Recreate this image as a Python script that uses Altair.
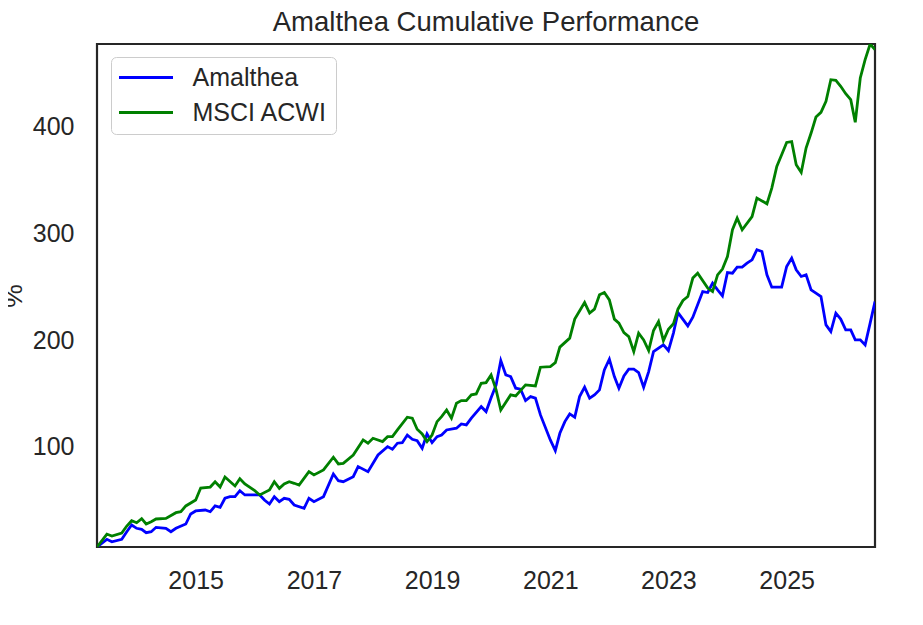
import pandas as pd
import altair as alt

FONT = "Liberation Sans"
INK = "#262626"

# Amalthea, cumulative % (month, value)
amalthea_dates = [
    "2013-05", "2013-07", "2013-08", "2013-10", "2013-11", "2013-12", "2014-01", "2014-02",
    "2014-03", "2014-04", "2014-05", "2014-07", "2014-08", "2014-09", "2014-11", "2014-12",
    "2015-01", "2015-03", "2015-04", "2015-05", "2015-06", "2015-07", "2015-08", "2015-09",
    "2015-10", "2015-11", "2016-01", "2016-02", "2016-03", "2016-04", "2016-05", "2016-06",
    "2016-07", "2016-08", "2016-09", "2016-11", "2016-12", "2017-01", "2017-03", "2017-05",
    "2017-06", "2017-07", "2017-09", "2017-10", "2017-12", "2018-02", "2018-04", "2018-05",
    "2018-06", "2018-07", "2018-08", "2018-09", "2018-10", "2018-11", "2018-12", "2019-01",
    "2019-02", "2019-03", "2019-04", "2019-06", "2019-07", "2019-08", "2019-09", "2019-11",
    "2019-12", "2020-01", "2020-02", "2020-03", "2020-04", "2020-05", "2020-06", "2020-07",
    "2020-08", "2020-09", "2020-10", "2020-11", "2021-01", "2021-02", "2021-03", "2021-04",
    "2021-05", "2021-06", "2021-07", "2021-08", "2021-09", "2021-10", "2021-11", "2021-12",
    "2022-01", "2022-02", "2022-03", "2022-04", "2022-05", "2022-06", "2022-07", "2022-08",
    "2022-09", "2022-10", "2022-12", "2023-01", "2023-02", "2023-03", "2023-05", "2023-06",
    "2023-08", "2023-09", "2023-10", "2023-11", "2023-12", "2024-01", "2024-02", "2024-03",
    "2024-04", "2024-05", "2024-06", "2024-07", "2024-08", "2024-09", "2024-10", "2024-12",
    "2025-01", "2025-02", "2025-03", "2025-04", "2025-05", "2025-06", "2025-07", "2025-08",
    "2025-09", "2025-10", "2025-11", "2025-12", "2026-01", "2026-02", "2026-03", "2026-04",
    "2026-05", "2026-06", "2026-07",
]
amalthea_values = [
    6.4, 13.6, 11.3, 13.6, 20.7, 27.0, 23.9, 22.9,
    19.8, 20.7, 24.8, 23.9, 20.7, 23.9, 27.9, 37.3,
    40.1, 41.0, 39.4, 44.8, 43.5, 52.0, 53.5, 53.5,
    59.1, 55.1, 55.1, 55.1, 50.4, 46.6, 53.5, 48.8,
    52.0, 51.0, 45.7, 42.6, 52.0, 48.8, 53.5, 74.7,
    68.4, 67.5, 72.2, 81.6, 76.9, 92.5, 100.3, 97.8,
    103.5, 104.0, 111.2, 107.2, 105.9, 98.8, 112.2, 104.0,
    109.6, 111.2, 115.9, 117.5, 121.5, 120.6, 126.9, 137.7,
    133.1, 146.0, 158.0, 180.8, 167.4, 165.8, 155.0, 154.0,
    143.4, 147.1, 145.6, 130.0, 106.6, 96.5, 112.8, 123.7,
    130.9, 127.8, 147.1, 155.9, 145.6, 148.7, 153.4, 172.1,
    182.1, 165.8, 155.0, 166.5, 172.8, 172.8, 169.6, 155.9,
    170.5, 189.2, 195.5, 190.2, 206.5, 225.7, 213.3, 221.4,
    245.4, 244.5, 253.3, 247.0, 241.4, 263.2, 262.6, 268.3,
    268.3, 272.0, 275.1, 284.5, 282.9, 261.0, 249.5, 249.5,
    268.8, 276.7, 265.7, 259.5, 261.0, 247.0, 243.9, 240.7,
    214.2, 208.0, 225.2, 219.6, 209.6, 209.6, 200.2, 200.2,
    195.5, 215.8, 236.0,
]

# MSCI ACWI, cumulative %
acwi_dates = [
    "2013-05", "2013-07", "2013-08", "2013-10", "2013-11", "2013-12", "2014-01", "2014-02",
    "2014-03", "2014-04", "2014-05", "2014-07", "2014-09", "2014-10", "2014-11", "2015-01",
    "2015-02", "2015-04", "2015-05", "2015-06", "2015-07", "2015-09", "2015-10", "2015-11",
    "2016-01", "2016-02", "2016-04", "2016-05", "2016-06", "2016-07", "2016-08", "2016-09",
    "2016-10", "2016-12", "2017-01", "2017-03", "2017-05", "2017-06", "2017-07", "2017-09",
    "2017-11", "2017-12", "2018-01", "2018-03", "2018-04", "2018-05", "2018-06", "2018-08",
    "2018-09", "2018-10", "2018-11", "2018-12", "2019-01", "2019-02", "2019-03", "2019-04",
    "2019-05", "2019-06", "2019-07", "2019-08", "2019-09", "2019-10", "2019-11", "2019-12",
    "2020-01", "2020-02", "2020-03", "2020-05", "2020-06", "2020-08", "2020-10", "2020-11",
    "2021-01", "2021-02", "2021-03", "2021-05", "2021-06", "2021-08", "2021-09", "2021-10",
    "2021-11", "2021-12", "2022-01", "2022-02", "2022-03", "2022-04", "2022-05", "2022-06",
    "2022-07", "2022-08", "2022-09", "2022-10", "2022-11", "2022-12", "2023-01", "2023-02",
    "2023-03", "2023-04", "2023-05", "2023-06", "2023-07", "2023-09", "2023-10", "2023-11",
    "2023-12", "2024-01", "2024-02", "2024-03", "2024-04", "2024-06", "2024-07", "2024-09",
    "2024-10", "2024-11", "2024-12", "2025-01", "2025-02", "2025-03", "2025-04", "2025-05",
    "2025-06", "2025-07", "2025-08", "2025-09", "2025-10", "2025-11", "2025-12", "2026-01",
    "2026-02", "2026-03", "2026-04", "2026-05", "2026-06", "2026-07",
]
acwi_values = [
    6.4, 18.5, 16.7, 19.5, 26.0, 31.0, 29.1, 32.9,
    27.9, 30.1, 32.6, 33.2, 38.5, 39.4, 44.8, 50.4,
    61.6, 62.5, 67.5, 62.5, 71.9, 63.5, 70.3, 65.4,
    59.1, 55.1, 59.7, 67.5, 61.3, 65.4, 67.5, 66.0,
    64.4, 76.9, 73.8, 78.5, 90.4, 84.1, 84.7, 92.5,
    106.6, 103.5, 108.1, 105.0, 109.6, 109.6, 115.9, 127.8,
    126.9, 116.6, 112.2, 105.0, 111.2, 123.7, 128.4, 134.6,
    126.9, 140.9, 143.4, 143.4, 148.7, 149.6, 159.6, 160.2,
    167.4, 153.4, 134.6, 148.7, 147.8, 158.1, 157.1, 174.6,
    175.2, 178.9, 193.4, 201.8, 219.6, 235.1, 225.2, 228.9,
    242.3, 244.5, 237.6, 219.6, 215.8, 207.0, 203.3, 189.2,
    206.5, 200.2, 190.2, 209.0, 217.3, 199.5, 210.2, 215.2,
    228.9, 237.0, 240.7, 258.0, 262.6, 248.6, 245.4, 261.0,
    266.4, 278.2, 303.2, 314.1, 303.2, 315.6, 332.9, 327.5,
    342.2, 362.5, 373.4, 384.9, 385.6, 364.0, 356.8, 379.7,
    393.7, 408.7, 413.0, 423.3, 443.6, 443.0, 437.4, 430.5,
    424.9, 403.7, 445.2, 462.4, 477.0, 471.7,
]

series_names = ["Amalthea", "MSCI ACWI"]
series_colors = ["#0000ff", "#008000"]
year_ticks = [2015, 2017, 2019, 2021, 2023, 2025]
pct_ticks = [100, 200, 300, 400]

df = pd.concat([
    pd.DataFrame({"date": [d + "-01" for d in amalthea_dates], "value": amalthea_values, "series": "Amalthea"}),
    pd.DataFrame({"date": [d + "-01" for d in acwi_dates], "value": acwi_values, "series": "MSCI ACWI"}),
])

# wide flat legend swatch: custom path drawn 3x wider than its layout box
legend = alt.Legend(title=None, orient="none", legendX=14, legendY=13,
                    symbolType="M-3,0H3", symbolSize=324, symbolStrokeWidth=3,
                    symbolOffset=14.5, labelOffset=34,
                    labelFontSize=25, padding=8, rowPadding=9,
                    strokeColor="#cccccc", fillColor="white", cornerRadius=5,
                    labelFont=FONT, labelColor=INK)

chart = alt.Chart(df).mark_line(strokeWidth=2.8, clip=True).encode(
    x=alt.X("date:T", scale=alt.Scale(type="utc", nice=False),
            axis=alt.Axis(title=None, values=[alt.DateTime(year=y, month=1, date=1, utc=True) for y in year_ticks],
                          format="%Y", labelPadding=21)),
    y=alt.Y("value:Q", scale=alt.Scale(zero=False, nice=False),
            axis=alt.Axis(title="%", values=pct_ticks, labelPadding=23, titlePadding=5,
                          titleFontSize=26.5, titleFontWeight="normal")),
    color=alt.Color("series:N", scale=alt.Scale(domain=series_names, range=series_colors),
                    legend=legend),
).properties(
    width=778,
    height=503,
    autosize=alt.AutoSizeParams(type="none"),
    padding={"left": 89, "top": 36, "right": 30, "bottom": 70},
    title=alt.TitleParams(text="Amalthea Cumulative Performance", fontSize=27.5, font=FONT,
                          fontWeight="normal", color=INK, anchor="middle",
                          baseline="alphabetic", offset=-14.5),
).configure_axis(
    grid=False, domain=False, ticks=False, tickSize=0,
    labelFont=FONT, labelFontSize=25, labelColor=INK,
    titleFont=FONT, titleColor=INK,
).configure_view(
    stroke=INK, strokeWidth=2.2,
)

chart.save("out.html", embed_options={"renderer": "svg", "actions": False})
